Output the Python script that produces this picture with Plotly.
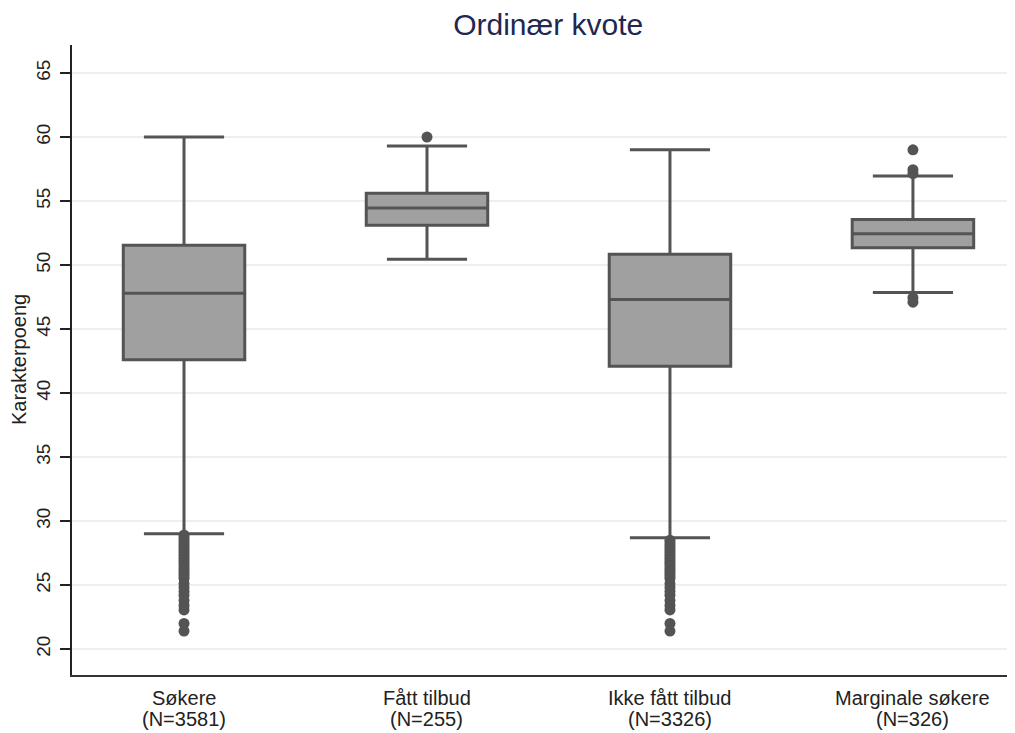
import plotly.graph_objects as go

cat_names = ["Søkere", "Fått tilbud", "Ikke fått tilbud", "Marginale søkere"]
cat_n = ["(N=3581)", "(N=255)", "(N=3326)", "(N=326)"]
positions = [0, 1, 2, 3]
q1 = [42.6, 53.1, 42.1, 51.35]
median = [47.8, 54.45, 47.3, 52.45]
q3 = [51.55, 55.6, 50.85, 53.55]
lowerfence = [29.0, 50.45, 28.7, 47.85]
upperfence = [60.0, 59.3, 59.0, 56.95]

out_sokere = [28.9, 28.7, 28.5, 28.3, 28.1, 27.9, 27.7, 27.5, 27.3, 27.1, 26.9, 26.7, 26.5,
              26.3, 26.1, 25.9, 25.7, 25.5, 25.1, 24.8, 24.5, 24.2, 23.8, 23.4, 23.05, 22.0, 21.4]
out_tilbud = [60.0]
out_ikke = [28.5, 28.3, 28.1, 27.9, 27.7, 27.5, 27.3, 27.1, 26.9, 26.7, 26.5, 26.3, 26.1,
            25.9, 25.7, 25.5, 25.1, 24.8, 24.5, 24.2, 23.8, 23.4, 23.05, 22.0, 21.4]
out_marginale = [59.0, 57.45, 57.15, 47.45, 47.1]

ytick_vals = [20, 25, 30, 35, 40, 45, 50, 55, 60, 65]

outliers = [out_sokere, out_tilbud, out_ikke, out_marginale]
ox, oy = [], []
for p, vals in zip(positions, outliers):
    ox += [p] * len(vals)
    oy += vals

line_col = "#545454"
text_col = "#222222"
font_fam = "Liberation Sans, Arial, sans-serif"

fig = go.Figure()
fig.add_trace(go.Scatter(
    x=ox, y=oy, mode="markers",
    marker=dict(color=line_col, size=11, line=dict(width=0)),
    showlegend=False, hoverinfo="y",
))
fig.add_trace(go.Box(
    x=positions, q1=q1, median=median, q3=q3,
    lowerfence=lowerfence, upperfence=upperfence,
    width=0.5, whiskerwidth=0.66,
    fillcolor="#a0a0a0", line=dict(color=line_col, width=3),
    boxpoints=False, showlegend=False,
))

annotations = []
for p, name, n in zip(positions, cat_names, cat_n):
    annotations.append(dict(x=p, xref="x", y=0, yref="paper", text=name, showarrow=False,
                            xanchor="center", yanchor="middle", yshift=-23,
                            font=dict(size=20, color=text_col, family=font_fam)))
    annotations.append(dict(x=p, xref="x", y=0, yref="paper", text=n, showarrow=False,
                            xanchor="center", yanchor="middle", yshift=-44,
                            font=dict(size=20, color=text_col, family=font_fam)))
annotations.append(dict(x=0, xref="paper", y=0.5, yref="paper", text="Karakterpoeng",
                        showarrow=False, textangle=-90, xanchor="center", yanchor="middle",
                        xshift=-53, font=dict(size=20, color=text_col, family=font_fam)))

fig.update_layout(
    width=1007, height=725,
    margin=dict(l=64, r=0, t=37, b=58),
    paper_bgcolor="white", plot_bgcolor="white",
    font=dict(family=font_fam, size=16, color=text_col),
    title=dict(text="Ordinær kvote", x=0.505, xref="paper", xanchor="center",
               y=1 - 16 / 725, yref="container", yanchor="middle",
               font=dict(size=30, color="#1e2850", family=font_fam)),
    xaxis=dict(
        range=[-0.461, 3.42], tickvals=positions, showticklabels=False,
        showgrid=False, zeroline=False, showline=True, linecolor="#333333", linewidth=1.5,
        ticks="",
    ),
    yaxis=dict(
        range=[17.97, 67.19], tickvals=ytick_vals, tickangle=-90,
        showgrid=True, gridcolor="#eaf1f3", gridwidth=2, zeroline=False,
        showline=True, linecolor="#222222", linewidth=1.5,
        ticks="outside", ticklen=10, tickwidth=1.5, tickcolor="#222222",
        ticklabelstandoff=3,
        tickfont=dict(size=19, color=text_col),
    ),
    annotations=annotations,
)

fig.write_html("out.html")
